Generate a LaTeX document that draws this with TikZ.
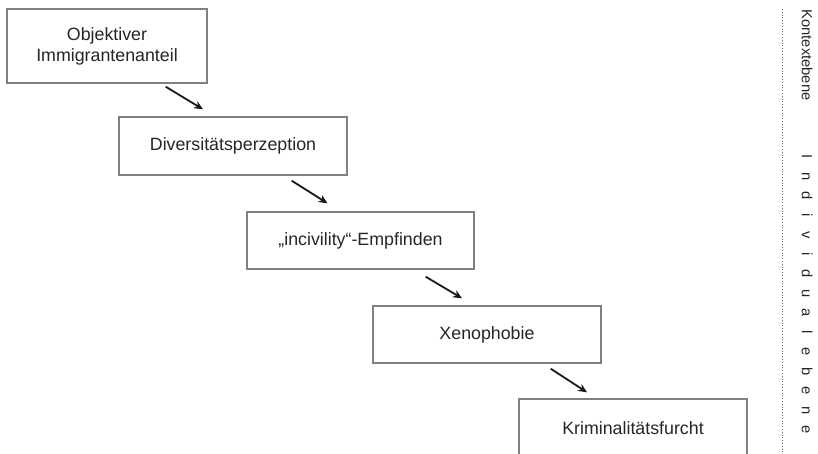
\documentclass[tikz,border=0pt]{standalone}
\usepackage{fontspec}
\setmainfont{Liberation Sans}
\usetikzlibrary{calc,arrows.meta}
\begin{document}
\begin{tikzpicture}[x=1pt,y=-1pt,
  stagebox/.style={draw=black!50,line width=1.4pt,fill=white,minimum height=57pt,
    inner sep=0pt,align=center,font=\fontsize{17.8}{21}\selectfont,text=black!85},
  arr/.style={line width=1.8pt,-{Stealth[length=9pt,width=8pt]},black!90},
  side/.style={rotate=-90,font=\fontsize{14.7}{17}\selectfont,text=black!85,inner sep=0pt}]
\useasboundingbox (0,0) rectangle (818,453);
\clip (0,0) rectangle (818,453);
\node[stagebox,minimum width=200pt,minimum height=74pt] (b1) at (107,46) {Objektiver\\Immigrantenanteil};
\node[stagebox,minimum width=228pt,minimum height=58pt] (b2) at (233,146) {Diversitätsperzeption};
\node[stagebox,minimum width=227pt] (b3) at (360.5,240.5) {„incivility“-Empfinden};
\node[stagebox,minimum width=228pt] (b4) at (487,334.5) {Xenophobie};
\node[stagebox,minimum width=228pt,minimum height=58pt] (b5) at (633,428) {Kriminalitätsfurcht};
\draw[arr] ($(b1.south east)+(-42,3)$) -- ($(b2.north)+(-30,-7)$);
\draw[arr] ($(b2.south east)+(-56,5)$) -- ($(b3.north)+(-33,-8)$);
\draw[arr] ($(b3.south east)+(-49,7)$) -- ($(b4.north)+(-25,-7)$);
\draw[arr] ($(b4.south east)+(-51,5)$) -- ($(b5.north)+(-46,-6)$);
\coordinate (dtop) at (782,9);
\coordinate (dbot) at (782,453);
\draw[black!60,line width=0.8pt,dotted] (dtop) -- (dbot);
\node[side] (kon) at (807,55) {Kontextebene};
\node[side] (ind) at (807,293.5) {\makebox[19.5pt]{I}\makebox[19.5pt]{n}\makebox[19.5pt]{d}\makebox[19.5pt]{i}\makebox[19.5pt]{v}\makebox[19.5pt]{i}\makebox[19.5pt]{d}\makebox[19.5pt]{u}\makebox[19.5pt]{a}\makebox[19.5pt]{l}\makebox[19.5pt]{e}\makebox[19.5pt]{b}\makebox[19.5pt]{e}\makebox[19.5pt]{n}\makebox[19.5pt]{e}};
\end{tikzpicture}
\end{document}
